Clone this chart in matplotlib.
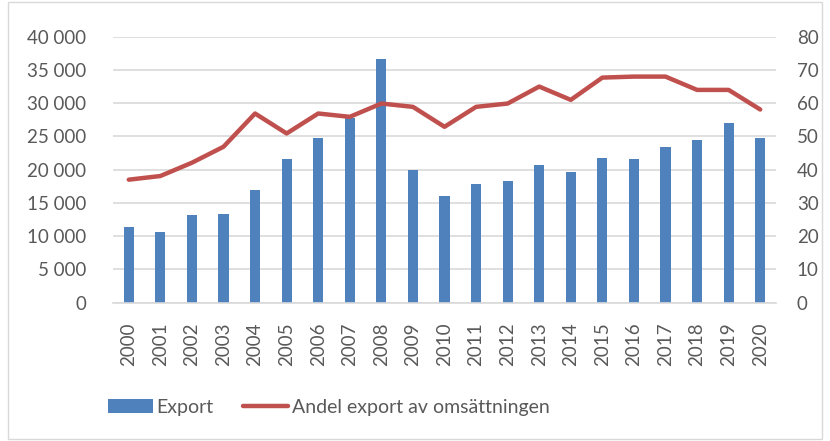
import numpy as np
import matplotlib.pyplot as plt
from matplotlib.ticker import FuncFormatter
from matplotlib.patches import Rectangle

# data
years = [str(y) for y in range(2000, 2021)]
export = [11400, 10700, 13200, 13400, 17000, 21600, 24800, 27700, 36700, 19900,
          16000, 17800, 18300, 20700, 19600, 21700, 21600, 23400, 24500, 27000, 24800]
andel = [37, 38.1, 42.1, 46.9, 56.9, 50.9, 56.9, 55.9, 59.9, 58.9,
         52.9, 58.9, 59.9, 65, 61, 67.7, 68, 68, 64, 64, 58.1]

plt.rcParams['font.family'] = ['Lato', 'DejaVu Sans']
text_color = '#595959'

fig = plt.figure(figsize=(8.30, 4.41), dpi=100)
ax = fig.add_axes([113 / 830, 1 - 302.7 / 441, (776 - 113) / 830, (302.7 - 36.7) / 441])
ax2 = ax.twinx()

x = np.arange(len(years))
bars = ax.bar(x, export, width=0.32, color='#4F81BD', label='Export', zorder=2)
line, = ax2.plot(x, andel, color='#C0504D', linewidth=3.2, solid_capstyle='round',
                 label='Andel export av omsättningen', zorder=3)

ax.set_ylim(0, 40000)
ax.set_yticks(range(0, 40001, 5000))
ax.yaxis.set_major_formatter(FuncFormatter(lambda v, p: f'{int(v):,}'.replace(',', ' ')))
ax2.set_ylim(0, 80)
ax2.set_yticks(range(0, 81, 10))
ax.set_xlim(-0.5, len(years) - 0.5)
ax.set_xticks(x)
ax.set_xticklabels(years, rotation=90)

ax.grid(axis='y', color='#D9D9D9', linewidth=1.2, zorder=0)
ax.set_axisbelow(True)
for a in (ax, ax2):
    for s in a.spines.values():
        s.set_visible(False)
    a.tick_params(length=0, colors=text_color, labelsize=13.5)
ax.spines['bottom'].set_visible(True)
ax.spines['bottom'].set_color('#D9D9D9')
ax.spines['bottom'].set_linewidth(1.2)
ax.tick_params(axis='y', pad=19)
ax2.tick_params(axis='y', pad=15)
ax.tick_params(axis='x', pad=14)

fig.legend([bars, line], ['Export', 'Andel export av omsättningen'],
           loc='center', bbox_to_anchor=(0.396, 0.077), ncol=2, frameon=False,
           fontsize=14, labelcolor=text_color, handlelength=2.3, handletextpad=0.2,
           columnspacing=1.5)

fig.patches.append(Rectangle((8 / 830, 0.005), 1 - 16 / 830, 0.99, transform=fig.transFigure,
                             fill=False, edgecolor='#D9D9D9', linewidth=1))

plt.savefig('out.png', dpi=100)
